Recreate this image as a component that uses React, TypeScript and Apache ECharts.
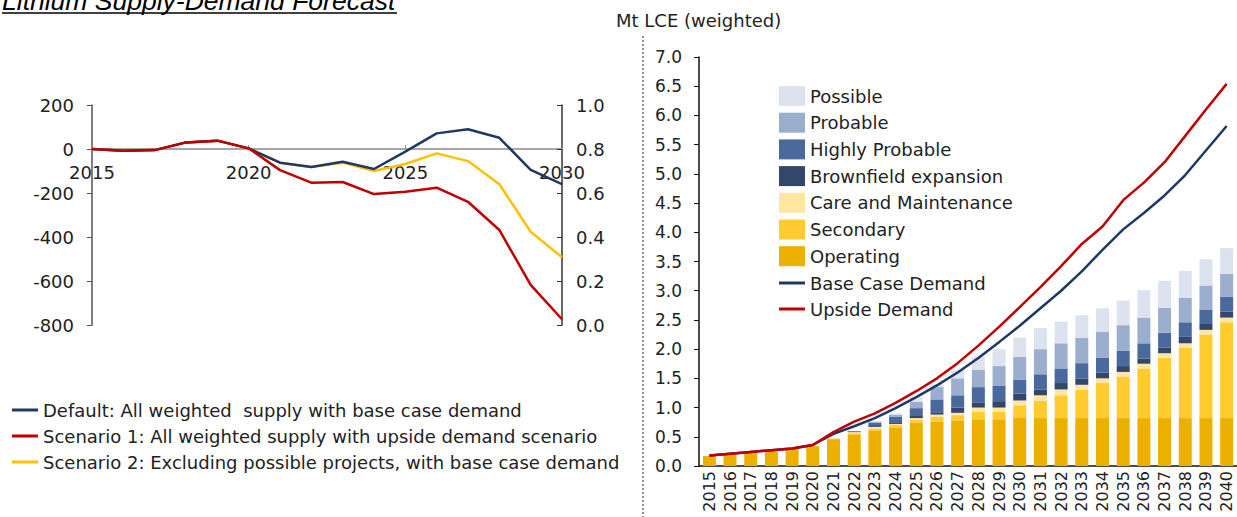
import React, { useEffect, useRef } from "react";
import * as echarts from "echarts";

const gapYears = ["2015","2016","2017","2018","2019","2020","2021","2022","2023","2024","2025","2026","2027","2028","2029","2030"];
const defaultGap = [0, -8, -5, 30, 38, 3, -62, -82, -58, -91, -12, 71, 90, 51, -95, -160];
const scenario1Gap = [0, -8, -5, 30, 38, 3, -96, -153, -150, -205, -194, -176, -240, -368, -618, -774];
const scenario2Gap = [0, -8, -5, 30, 38, 3, -62, -82, -62, -100, -68, -20, -55, -160, -376, -492];
const leftTicks = [-800, -600, -400, -200, 0, 200];
const rightTicks = [0, 0.2, 0.4, 0.6, 0.8, 1.0];

const years = ["2015","2016","2017","2018","2019","2020","2021","2022","2023","2024","2025","2026","2027","2028","2029","2030","2031","2032","2033","2034","2035","2036","2037","2038","2039","2040"];
const operating = [0.17, 0.19, 0.22, 0.25, 0.29, 0.34, 0.46, 0.53, 0.60, 0.66, 0.74, 0.76, 0.78, 0.80, 0.80, 0.82, 0.82, 0.82, 0.82, 0.82, 0.82, 0.82, 0.82, 0.82, 0.82, 0.82];
const secondary = [0, 0, 0, 0, 0, 0, 0.01, 0.03, 0.04, 0.04, 0.05, 0.08, 0.09, 0.13, 0.13, 0.22, 0.30, 0.39, 0.48, 0.60, 0.71, 0.85, 1.03, 1.21, 1.43, 1.64];
const careMaintenance = [0, 0, 0, 0, 0, 0, 0.01, 0.02, 0.03, 0.02, 0.03, 0.04, 0.04, 0.07, 0.07, 0.08, 0.09, 0.10, 0.09, 0.08, 0.08, 0.08, 0.08, 0.07, 0.08, 0.08];
const brownfield = [0, 0, 0, 0, 0, 0, 0, 0.01, 0.03, 0.03, 0.05, 0.04, 0.09, 0.08, 0.11, 0.12, 0.10, 0.11, 0.11, 0.10, 0.10, 0.09, 0.10, 0.11, 0.10, 0.10];
const highlyProbable = [0, 0, 0, 0, 0, 0, 0, 0.01, 0.04, 0.09, 0.12, 0.22, 0.21, 0.27, 0.26, 0.24, 0.26, 0.25, 0.26, 0.25, 0.26, 0.26, 0.25, 0.25, 0.25, 0.26];
const probable = [0, 0, 0, 0, 0, 0, 0, 0, 0.02, 0.04, 0.11, 0.21, 0.29, 0.30, 0.34, 0.39, 0.43, 0.43, 0.43, 0.45, 0.44, 0.44, 0.43, 0.42, 0.41, 0.39];
const possible = [0, 0, 0, 0, 0, 0, 0, 0, 0.01, 0.02, 0.08, 0.05, 0.14, 0.22, 0.29, 0.33, 0.36, 0.37, 0.39, 0.40, 0.42, 0.47, 0.46, 0.46, 0.45, 0.44];
const baseDemand = [0.18, 0.21, 0.24, 0.27, 0.30, 0.36, 0.55, 0.68, 0.82, 0.99, 1.18, 1.38, 1.60, 1.85, 2.12, 2.40, 2.70, 3.00, 3.33, 3.70, 4.05, 4.33, 4.63, 4.98, 5.40, 5.82];
const upsideDemand = [0.18, 0.21, 0.24, 0.27, 0.30, 0.36, 0.58, 0.76, 0.90, 1.08, 1.28, 1.50, 1.76, 2.06, 2.38, 2.72, 3.06, 3.42, 3.80, 4.10, 4.55, 4.85, 5.20, 5.65, 6.10, 6.54];

const FONT = "DejaVu Sans";
const TXT = "#222";
const NAVY = "#1f3864";
const RED = "#c00000";
const YEL = "#ffc000";
const LINE_ICON = "path://M0,0H26V3H0Z";

const L1 = "Default: All weighted  supply with base case demand";
const L2 = "Scenario 1: All weighted supply with upside demand scenario";
const L3 = "Scenario 2: Excluding possible projects, with base case demand";

export default function App() {
  const ref = useRef<HTMLDivElement>(null);
  useEffect(() => {
    const chart = echarts.init(ref.current!, undefined, { renderer: "svg" });
    const barSeries = (name: string, data: number[], color: string) => ({
      name, type: "bar", stack: "supply", data, xAxisIndex: 1, yAxisIndex: 2,
      barWidth: 13, itemStyle: { color }, emphasis: { disabled: true },
    });
    const legendText = { fontFamily: FONT, fontSize: 18, color: TXT };
    chart.setOption({
      animation: false,
      textStyle: { fontFamily: FONT },
      grid: [
        { left: 92, right: 1237 - 562, top: 105, bottom: 517 - 325 },
        { left: 699, right: -3, top: 57, bottom: 517 - 466 },
      ],
      xAxis: [
        {
          gridIndex: 0, type: "category", data: gapYears, boundaryGap: false,
          position: "bottom", offset: -(325 - 149),
          axisLine: { onZero: false, lineStyle: { color: "#8a8a8a", width: 1.5 } },
          axisTick: { show: true, inside: true, length: 4, interval: 4, lineStyle: { color: "#8a8a8a" } },
          axisLabel: { interval: 4, margin: 14, fontSize: 18, color: TXT, fontFamily: FONT },
        },
        {
          gridIndex: 1, type: "category", data: years,
          axisLine: { lineStyle: { color: "#111", width: 1.5 } },
          axisTick: { show: false },
          axisLabel: { interval: 0, rotate: 90, margin: 5, fontSize: 16, color: TXT, fontFamily: FONT },
        },
      ],
      yAxis: [
        {
          gridIndex: 0, type: "value", min: leftTicks[0], max: leftTicks[leftTicks.length - 1], interval: 200,
          axisLine: { show: true, lineStyle: { color: "#555", width: 1.5 } },
          axisTick: { show: true, length: 5, lineStyle: { color: "#555" } },
          splitLine: { show: false },
          axisLabel: { margin: 18, fontSize: 18, color: TXT, fontFamily: FONT },
        },
        {
          gridIndex: 0, type: "value", position: "right", min: rightTicks[0], max: rightTicks[rightTicks.length - 1], interval: 0.2,
          axisLine: { show: true, lineStyle: { color: "#333", width: 1.5 } },
          axisTick: { show: true, inside: true, length: 5, lineStyle: { color: "#333" } },
          splitLine: { show: false },
          axisLabel: { margin: 14, fontSize: 18, color: TXT, fontFamily: FONT, formatter: (v: number) => v.toFixed(1) },
        },
        {
          gridIndex: 1, type: "value", min: 0, max: 7, interval: 0.5,
          axisLine: { show: true, lineStyle: { color: "#111", width: 1.5 } },
          axisTick: { show: true, length: 5, lineStyle: { color: "#111" } },
          splitLine: { show: false },
          axisLabel: { margin: 17, fontSize: 17, color: TXT, fontFamily: FONT, formatter: (v: number) => v.toFixed(1) },
        },
      ],
      legend: [
        {
          data: [
            { name: L1, icon: LINE_ICON },
            { name: L2, icon: LINE_ICON },
            { name: L3, icon: LINE_ICON },
          ],
          orient: "vertical", left: 7, top: 396,
          itemWidth: 26, itemHeight: 20, itemGap: 8, symbolKeepAspect: true,
          textStyle: legendText,
        },
        {
          data: [
            { name: "Possible", icon: "rect" },
            { name: "Probable", icon: "rect" },
            { name: "Highly Probable", icon: "rect" },
            { name: "Brownfield expansion", icon: "rect" },
            { name: "Care and Maintenance", icon: "rect" },
            { name: "Secondary", icon: "rect" },
            { name: "Operating", icon: "rect" },
          ],
          orient: "vertical", left: 774, top: 81,
          itemWidth: 26, itemHeight: 20, itemGap: 6.7,
          textStyle: legendText,
        },
        {
          data: [
            { name: "Base Case Demand", icon: LINE_ICON },
            { name: "Upside Demand", icon: LINE_ICON },
          ],
          orient: "vertical", left: 774, top: 269,
          itemWidth: 26, itemHeight: 20, itemGap: 8, symbolKeepAspect: true,
          textStyle: legendText,
        },
      ],
      series: [
        { name: L3, type: "line", xAxisIndex: 0, yAxisIndex: 0, data: scenario2Gap, symbol: "none", lineStyle: { color: YEL, width: 2.5 }, itemStyle: { color: YEL } },
        { name: L1, type: "line", xAxisIndex: 0, yAxisIndex: 0, data: defaultGap, symbol: "none", lineStyle: { color: NAVY, width: 2.5 }, itemStyle: { color: NAVY } },
        { name: L2, type: "line", xAxisIndex: 0, yAxisIndex: 0, data: scenario1Gap, symbol: "none", lineStyle: { color: RED, width: 2.5 }, itemStyle: { color: RED } },
        barSeries("Operating", operating, "#ebb000"),
        barSeries("Secondary", secondary, "#ffcb2f"),
        barSeries("Care and Maintenance", careMaintenance, "#ffe7a1"),
        barSeries("Brownfield expansion", brownfield, "#33476a"),
        barSeries("Highly Probable", highlyProbable, "#4a6a9e"),
        barSeries("Probable", probable, "#9caecd"),
        barSeries("Possible", possible, "#dde3ee"),
        { name: "Base Case Demand", type: "line", xAxisIndex: 1, yAxisIndex: 2, data: baseDemand, symbol: "none", lineStyle: { color: NAVY, width: 2.5 }, itemStyle: { color: NAVY } },
        { name: "Upside Demand", type: "line", xAxisIndex: 1, yAxisIndex: 2, data: upsideDemand, symbol: "none", lineStyle: { color: RED, width: 2.5 }, itemStyle: { color: RED } },
      ],
      graphic: [
        {
          type: "text", x: 2, y: 1,
          style: { text: "Lithium Supply-Demand Forecast", font: 'italic 26.5px "Liberation Sans"', fill: "#000", verticalAlign: "middle", align: "left" },
        },
        { type: "line", shape: { x1: 2, y1: 13, x2: 397, y2: 13 }, style: { stroke: "#000", lineWidth: 1.5 } },
        {
          type: "text", x: 616, y: 20,
          style: { text: "Mt LCE (weighted)", font: `18px "${FONT}"`, fill: TXT, verticalAlign: "middle", align: "left" },
        },
        { type: "line", shape: { x1: 643, y1: 36, x2: 643, y2: 517 }, style: { stroke: "#222", lineWidth: 1, lineDash: [2, 2] } },
      ],
    });
    return () => chart.dispose();
  }, []);
  return <div ref={ref} style={{ position: "absolute", left: 0, top: 0, width: 1237, height: 517 }} />;
}
